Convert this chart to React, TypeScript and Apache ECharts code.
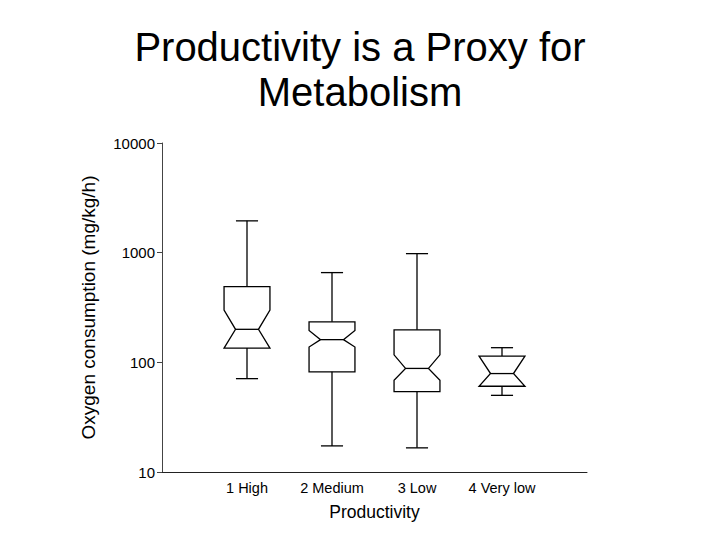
import React, { useEffect, useRef } from "react";
import * as echarts from "echarts";

const categories = ["1 High", "2 Medium", "3 Low", "4 Very low"];
const whiskerLow = [71, 17.3, 16.6, 50];
const q1 = [135, 82, 54, 60.5];
const notchLow = [135, 138, 68.6, 60.5];
const median = [200, 161, 88, 79];
const notchHigh = [300, 195, 117, 114];
const q3 = [490, 234, 198, 114];
const whiskerHigh = [1950, 658, 980, 136];
const yTicks = [10, 100, 1000, 10000];

const FONT = "Liberation Sans, Arial, Helvetica, sans-serif";

export default function App() {
  const ref = useRef<HTMLDivElement>(null);
  useEffect(() => {
    if (!ref.current) return;
    const chart = echarts.init(ref.current, undefined, { renderer: "svg" });
    const data = categories.map((_, i) => [
      i + 1,
      whiskerLow[i],
      q1[i],
      notchLow[i],
      median[i],
      notchHigh[i],
      q3[i],
      whiskerHigh[i],
    ]);
    const renderItem = (params: any, api: any) => {
      const x = api.value(0);
      const wl = api.value(1);
      const vq1 = api.value(2);
      const nl = Math.max(api.value(3), vq1);
      const med = api.value(4);
      const vq3 = api.value(6);
      const nh = Math.min(api.value(5), vq3);
      const wh = api.value(7);
      const c = api.coord([x, med]);
      const cx = c[0];
      const unit = api.size([1, 1])[0];
      const hw = unit * 0.27;
      const mw = unit * 0.135;
      const cw = unit * 0.13;
      const py = (v: number) => api.coord([x, v])[1];
      const pQ1 = py(vq1), pQ3 = py(vq3), pNl = py(nl), pNh = py(nh), pMed = py(med);
      const pWl = py(wl), pWh = py(wh);
      const st = { stroke: "#000", lineWidth: 1.3, fill: "none" };
      return {
        type: "group",
        children: [
          {
            type: "polygon",
            shape: {
              points: [
                [cx - hw, pQ3], [cx + hw, pQ3], [cx + hw, pNh], [cx + mw, pMed],
                [cx + hw, pNl], [cx + hw, pQ1], [cx - hw, pQ1], [cx - hw, pNl],
                [cx - mw, pMed], [cx - hw, pNh],
              ],
            },
            style: { stroke: "#000", lineWidth: 1.3, fill: "#fff" },
          },
          { type: "line", shape: { x1: cx - mw, y1: pMed, x2: cx + mw, y2: pMed }, style: st },
          { type: "line", shape: { x1: cx, y1: pQ3, x2: cx, y2: pWh }, style: st },
          { type: "line", shape: { x1: cx - cw, y1: pWh, x2: cx + cw, y2: pWh }, style: st },
          { type: "line", shape: { x1: cx, y1: pQ1, x2: cx, y2: pWl }, style: st },
          { type: "line", shape: { x1: cx - cw, y1: pWl, x2: cx + cw, y2: pWl }, style: st },
        ],
      };
    };
    chart.setOption({
      animation: false,
      backgroundColor: "#fff",
      title: {
        text: "Productivity is a Proxy for\nMetabolism",
        left: "center",
        top: 24,
        padding: 0,
        textStyle: {
          fontFamily: FONT,
          fontSize: 40,
          fontWeight: "normal",
          color: "#000",
          lineHeight: 45,
        },
      },
      grid: { left: 162, right: 133, top: 143, bottom: 68 },
      xAxis: {
        type: "value",
        min: 0,
        max: categories.length + 1,
        interval: 1,
        name: "Productivity",
        nameLocation: "middle",
        nameGap: 31,
        nameTextStyle: { fontFamily: FONT, fontSize: 17.5, color: "#000" },
        axisLine: { lineStyle: { color: "#222", width: 1 } },
        axisTick: { show: false },
        splitLine: { show: false },
        axisLabel: {
          fontFamily: FONT,
          fontSize: 14.5,
          color: "#000",
          margin: 8,
          formatter: (v: number) => (v >= 1 && v <= categories.length ? categories[v - 1] : ""),
        },
      },
      yAxis: {
        type: "log",
        logBase: 10,
        min: yTicks[0],
        max: yTicks[yTicks.length - 1],
        name: "Oxygen consumption (mg/kg/h)",
        nameLocation: "middle",
        nameGap: 64,
        nameTextStyle: { fontFamily: FONT, fontSize: 19, color: "#000" },
        axisLine: { show: true, lineStyle: { color: "#444", width: 1 } },
        axisTick: { show: true, length: 5, lineStyle: { color: "#444" } },
        minorTick: { show: false },
        splitLine: { show: false },
        axisLabel: {
          fontFamily: FONT,
          fontSize: 15,
          color: "#000",
          margin: 7,
          formatter: (v: number) => String(Math.round(v)),
        },
      },
      series: [
        {
          type: "custom",
          renderItem,
          data,
          encode: { x: 0, y: [1, 7] },
          clip: false,
        },
      ],
    });
    return () => chart.dispose();
  }, []);
  return (
    <div
      ref={ref}
      style={{ position: "absolute", left: 0, top: 0, width: 720, height: 540 }}
    />
  );
}
